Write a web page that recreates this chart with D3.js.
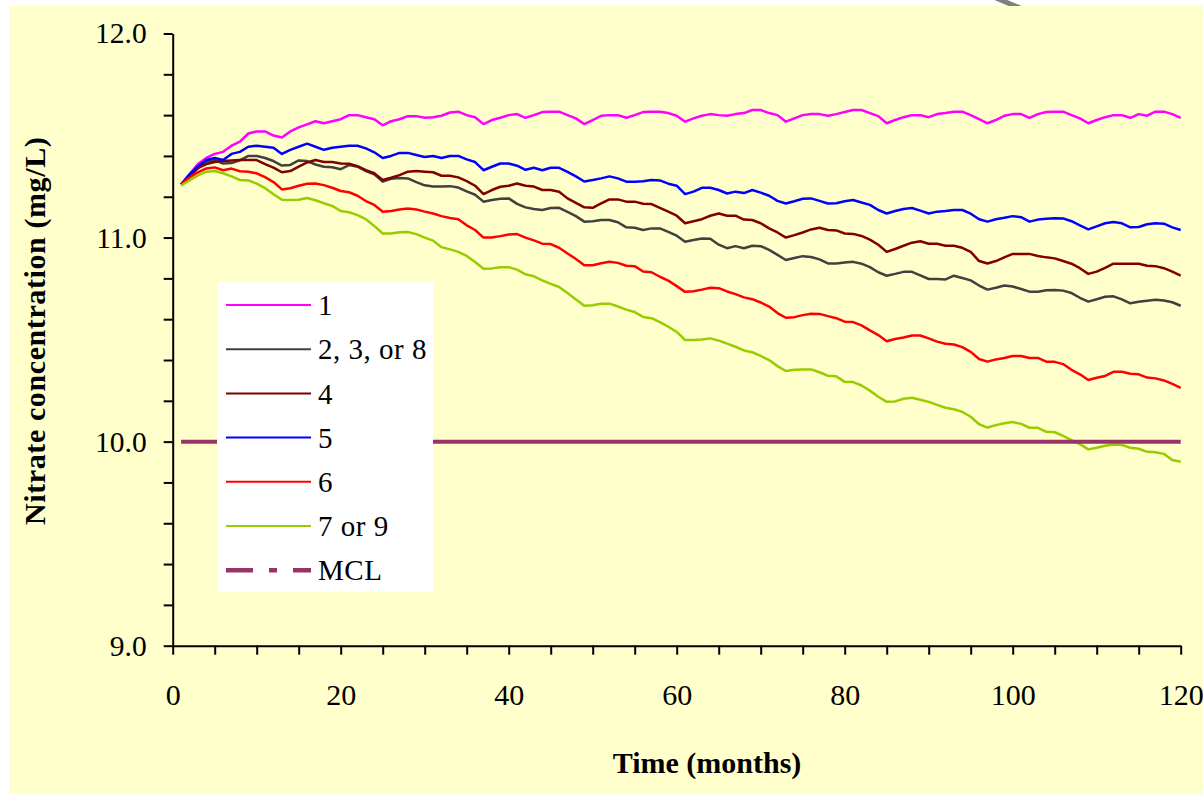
<!DOCTYPE html>
<html>
<head>
<meta charset="utf-8">
<script src="https://cdn.jsdelivr.net/npm/d3@7"></script>
<style>
  body { margin: 0; background: #fff; }
  svg { display: block; }
  text { font-family: "Times New Roman", "Liberation Serif", serif; fill: #000; }
</style>
</head>
<body>
<div id="chart"></div>
<script>
var svgWidth = 1203;
var svgHeight = 794;

// months 1..120
var months = d3.range(1, 121);

var seriesNames = ["1", "2, 3, or 8", "4", "5", "6", "7 or 9"];
var seriesColors = ["#FF00FF", "#404040", "#800000", "#0000FF", "#FF0000", "#99CC00"];

var s1 = [11.26,11.31,11.36,11.39,11.41,11.42,11.45,11.47,11.51,11.52,11.52,11.50,11.49,11.52,11.54,11.555,11.57,11.56,11.57,11.58,
  11.60,11.60,11.59,11.58,11.55,11.57,11.58,11.595,11.595,11.587,11.59,11.597,11.613,11.617,11.60,11.59,11.556,11.576,11.587,11.60,
  11.605,11.587,11.60,11.615,11.617,11.617,11.60,11.584,11.556,11.576,11.597,11.60,11.60,11.587,11.60,11.615,11.617,11.617,11.61,11.597,
  11.568,11.584,11.597,11.605,11.60,11.597,11.605,11.61,11.625,11.625,11.61,11.60,11.568,11.584,11.60,11.605,11.605,11.597,11.605,11.615,
  11.625,11.625,11.61,11.595,11.56,11.576,11.59,11.60,11.60,11.59,11.605,11.61,11.617,11.617,11.60,11.58,11.56,11.576,11.597,11.605,
  11.605,11.587,11.605,11.615,11.617,11.617,11.60,11.584,11.56,11.576,11.59,11.60,11.60,11.587,11.605,11.597,11.617,11.617,11.605,11.587];

var s238 = [11.26,11.30,11.34,11.37,11.38,11.363,11.365,11.378,11.40,11.40,11.39,11.375,11.353,11.356,11.378,11.375,11.358,11.347,11.345,11.335,
  11.355,11.347,11.326,11.31,11.274,11.288,11.292,11.29,11.272,11.256,11.25,11.25,11.252,11.245,11.226,11.21,11.176,11.184,11.19,11.192,
  11.165,11.148,11.14,11.135,11.145,11.146,11.126,11.105,11.078,11.08,11.086,11.086,11.075,11.05,11.048,11.037,11.045,11.045,11.028,11.009,
  10.98,10.988,10.995,10.994,10.965,10.948,10.958,10.948,10.96,10.958,10.94,10.915,10.89,10.90,10.909,10.905,10.893,10.873,10.873,10.878,
  10.881,10.872,10.855,10.83,10.813,10.822,10.832,10.832,10.815,10.797,10.797,10.795,10.813,10.802,10.79,10.765,10.745,10.754,10.765,10.76,
  10.748,10.735,10.735,10.742,10.743,10.74,10.728,10.705,10.686,10.698,10.71,10.712,10.697,10.678,10.685,10.69,10.695,10.692,10.683,10.666];

var s4 = [11.26,11.30,11.34,11.36,11.37,11.375,11.378,11.38,11.38,11.38,11.36,11.343,11.32,11.326,11.348,11.368,11.38,11.37,11.37,11.363,
  11.362,11.35,11.33,11.315,11.282,11.293,11.306,11.323,11.326,11.323,11.32,11.303,11.303,11.295,11.277,11.254,11.213,11.233,11.249,11.254,
  11.265,11.254,11.25,11.233,11.233,11.225,11.192,11.17,11.148,11.146,11.167,11.187,11.187,11.176,11.176,11.166,11.164,11.145,11.127,11.107,
  11.07,11.08,11.09,11.107,11.118,11.107,11.107,11.088,11.086,11.07,11.045,11.025,11.0,11.012,11.025,11.04,11.048,11.037,11.035,11.02,
  11.018,11.008,10.99,10.965,10.93,10.944,10.96,10.975,10.982,10.97,10.97,10.96,10.96,10.95,10.93,10.885,10.873,10.885,10.903,10.92,
  10.92,10.92,10.91,10.903,10.898,10.885,10.872,10.85,10.822,10.833,10.852,10.872,10.872,10.872,10.872,10.862,10.86,10.85,10.833,10.813];

var s5 = [11.26,11.31,11.35,11.38,11.39,11.38,11.41,11.42,11.445,11.45,11.445,11.44,11.41,11.43,11.445,11.46,11.445,11.43,11.44,11.445,
  11.45,11.45,11.437,11.418,11.39,11.40,11.415,11.415,11.405,11.395,11.40,11.39,11.40,11.40,11.383,11.37,11.33,11.347,11.363,11.363,
  11.352,11.332,11.342,11.33,11.342,11.342,11.322,11.30,11.275,11.282,11.29,11.30,11.29,11.274,11.274,11.276,11.282,11.28,11.264,11.254,
  11.213,11.225,11.244,11.244,11.233,11.216,11.225,11.218,11.233,11.22,11.205,11.18,11.167,11.178,11.19,11.192,11.18,11.167,11.168,11.178,
  11.184,11.172,11.16,11.135,11.118,11.13,11.14,11.145,11.132,11.118,11.127,11.13,11.135,11.135,11.117,11.09,11.078,11.09,11.097,11.105,
  11.10,11.078,11.088,11.092,11.095,11.094,11.08,11.06,11.04,11.055,11.07,11.076,11.07,11.05,11.052,11.065,11.07,11.068,11.05,11.037];

var s6 = [11.26,11.295,11.32,11.339,11.344,11.33,11.338,11.325,11.322,11.315,11.296,11.272,11.236,11.242,11.254,11.264,11.265,11.257,11.244,11.228,
  11.222,11.205,11.179,11.16,11.127,11.13,11.138,11.142,11.138,11.127,11.118,11.105,11.096,11.09,11.06,11.037,11.0,11.0,11.007,11.015,
  11.017,11.0,10.986,10.97,10.968,10.95,10.922,10.895,10.864,10.864,10.874,10.881,10.876,10.862,10.86,10.834,10.83,10.808,10.789,10.762,
  10.734,10.737,10.745,10.754,10.752,10.736,10.723,10.707,10.698,10.682,10.662,10.63,10.607,10.61,10.62,10.627,10.626,10.615,10.605,10.588,
  10.586,10.57,10.545,10.522,10.492,10.503,10.51,10.52,10.52,10.506,10.49,10.48,10.476,10.463,10.44,10.405,10.392,10.403,10.41,10.42,
  10.42,10.41,10.41,10.392,10.391,10.38,10.352,10.33,10.302,10.313,10.322,10.342,10.342,10.333,10.33,10.314,10.31,10.30,10.283,10.264];

var s79 = [11.255,11.28,11.305,11.323,11.326,11.315,11.30,11.282,11.28,11.264,11.242,11.212,11.185,11.184,11.185,11.194,11.183,11.168,11.155,11.13,
  11.124,11.11,11.09,11.057,11.02,11.02,11.026,11.027,11.017,11.0,10.985,10.953,10.942,10.93,10.91,10.88,10.847,10.849,10.855,10.855,
  10.843,10.82,10.81,10.79,10.773,10.758,10.728,10.697,10.666,10.668,10.676,10.676,10.662,10.647,10.635,10.611,10.605,10.586,10.563,10.538,
  10.498,10.498,10.50,10.506,10.495,10.48,10.465,10.447,10.438,10.42,10.40,10.37,10.346,10.352,10.354,10.354,10.34,10.323,10.32,10.293,
  10.292,10.275,10.25,10.22,10.195,10.197,10.21,10.215,10.205,10.195,10.18,10.166,10.159,10.146,10.122,10.085,10.069,10.081,10.09,10.096,
  10.087,10.068,10.068,10.048,10.046,10.028,10.008,9.988,9.962,9.97,9.98,9.986,9.984,9.97,9.965,9.95,9.948,9.94,9.91,9.901];

var mclValue = 10.0;
var mclColor = "#993366";

var xTicks = d3.range(0, 121, 5);
var yTicks = d3.range(0, 16).map(i => 9 + i * 0.2);

var allSeries = [s1, s238, s4, s5, s6, s79];

var svg = d3.select("#chart")
  .append("svg")
  .attr("width", svgWidth)
  .attr("height", svgHeight);

// little grey slash peeking in at the top edge
svg.append("line")
  .attr("x1", 996).attr("y1", -2)
  .attr("x2", 1020).attr("y2", 8)
  .attr("stroke", "#808080")
  .attr("stroke-width", 5);

// yellow page background
svg.append("rect")
  .attr("x", 9).attr("y", 6)
  .attr("width", svgWidth - 9).attr("height", svgHeight - 6)
  .attr("fill", "#FFFFCC");

var x = d3.scaleLinear().domain([0, 120]).range([172.7, 1180.7]);
var y = d3.scaleLinear().domain([9, 12]).range([645.7, 33.5]);

// axes
var xAxis = svg.append("g")
  .attr("transform", "translate(0,645.7)")
  .call(d3.axisBottom(x)
    .tickValues(xTicks)
    .tickSize(9)
    .tickSizeOuter(0)
    .tickPadding(29)
    .tickFormat(d => d % 20 === 0 ? d : ""));

var yAxis = svg.append("g")
  .attr("transform", "translate(172.7,0)")
  .call(d3.axisLeft(y)
    .tickValues(yTicks)
    .tickSize(9)
    .tickSizeOuter(0)
    .tickPadding(17)
    .tickFormat(d => Math.abs(d - Math.round(d)) < 1e-6 ? d.toFixed(1) : ""));

[xAxis, yAxis].forEach(function (g) {
  g.attr("font-family", null);
  g.select(".domain").attr("stroke", "#000").attr("stroke-width", 2);
  g.selectAll(".tick line").attr("stroke", "#000").attr("stroke-width", 2);
  g.selectAll(".tick text").attr("fill", "#000");
});
xAxis.selectAll(".tick text").attr("font-size", 30);
yAxis.selectAll(".tick text").attr("font-size", 29.5);

// series lines
var line = d3.line()
  .x((d, i) => x(months[i]))
  .y(d => y(d));

allSeries.forEach(function (vals, k) {
  svg.append("path")
    .datum(vals)
    .attr("fill", "none")
    .attr("stroke", seriesColors[k])
    .attr("stroke-width", 2.5)
    .attr("stroke-linejoin", "round")
    .attr("d", line);
});

// MCL
svg.append("line")
  .attr("x1", x(months[0]))
  .attr("x2", x(months[months.length - 1]))
  .attr("y1", y(mclValue))
  .attr("y2", y(mclValue))
  .attr("stroke", mclColor)
  .attr("stroke-width", 4);

// legend
var legend = svg.append("g").attr("transform", "translate(217,282)");
legend.append("rect")
  .attr("width", 216).attr("height", 310)
  .attr("fill", "#fff");

var legendItems = seriesNames.map((n, i) => ({ name: n, color: seriesColors[i], dash: null, width: 2 }));
legendItems.push({ name: "MCL", color: mclColor, dash: "27,16,8,16", width: 4.5 });

legendItems.forEach(function (d, i) {
  var ly = 23 + i * 44.2;
  legend.append("line")
    .attr("x1", 9).attr("x2", 94)
    .attr("y1", ly).attr("y2", ly)
    .attr("stroke", d.color)
    .attr("stroke-width", d.width)
    .attr("stroke-dasharray", d.dash);
  legend.append("text")
    .attr("x", 101)
    .attr("y", ly)
    .attr("dy", "0.35em")
    .attr("font-size", 29)
    .attr("letter-spacing", 0.5)
    .text(d.name);
});

// axis titles
svg.append("text")
  .attr("x", 707)
  .attr("y", 773)
  .attr("text-anchor", "middle")
  .attr("font-size", 30)
  .attr("font-weight", "bold")
  .text("Time (months)");

svg.append("text")
  .attr("transform", "translate(45,525) rotate(-90)")
  .attr("text-anchor", "start")
  .attr("font-size", 30)
  .attr("font-weight", "bold")
  .attr("letter-spacing", 0.6)
  .text("Nitrate concentration (mg/L)");
</script>
</body>
</html>
